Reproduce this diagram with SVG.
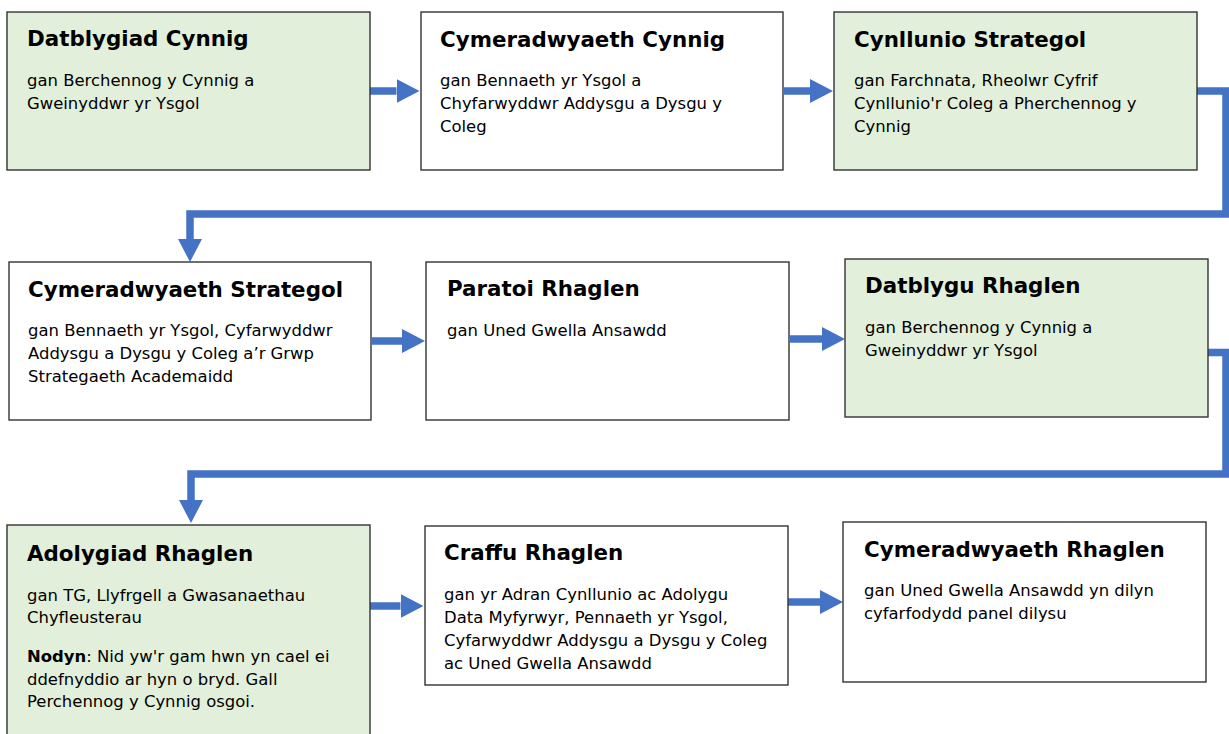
<svg xmlns="http://www.w3.org/2000/svg" width="1229" height="734" viewBox="0 0 1229 734">
<defs>
<style>
.box{stroke:#333;stroke-width:1.4}
.g{fill:#E2EFDA}
.w{fill:#ffffff}
.t{font-family:"DejaVu Sans",Verdana,sans-serif;font-weight:bold;font-size:21.4px;fill:#000}
.b{font-family:"DejaVu Sans",Verdana,sans-serif;font-size:16.45px;fill:#000}
.c{fill:none;stroke:#4472C4;stroke-width:7.5;stroke-linejoin:miter;marker-end:url(#ah)}
</style>
<marker id="ah" viewBox="0 0 23 24" refX="0" refY="12" markerWidth="23" markerHeight="24" markerUnits="userSpaceOnUse" orient="auto">
<path d="M0 0 L23 12 L0 24 Z" fill="#4472C4"/>
</marker>
</defs>
<rect width="1229" height="734" fill="#fff"/>
<g id="connectors">
<path class="c" d="M370 91 H396.5"/>
<path class="c" d="M784 91 H810"/>
<path class="c" d="M1197 91 H1226 V214 H190 V239"/>
<path class="c" d="M372 341 H402"/>
<path class="c" d="M790 339 H822"/>
<path class="c" d="M1208 352.5 H1226 V474 H191 V500"/>
<path class="c" d="M370 606 H400.5"/>
<path class="c" d="M788 602 H820"/>
</g>
<g id="n1">
<rect class="box g" x="7" y="12" width="363" height="158"/>
<text class="t" x="27" y="46">Datblygiad Cynnig</text>
<text class="b" x="27" y="86">gan Berchennog y Cynnig a</text>
<text class="b" x="27" y="108.5">Gweinyddwr yr Ysgol</text>
</g>
<g id="n2">
<rect class="box w" x="421" y="12" width="362" height="158"/>
<text class="t" x="440" y="47">Cymeradwyaeth Cynnig</text>
<text class="b" x="440" y="86">gan Bennaeth yr Ysgol a</text>
<text class="b" x="440" y="109">Chyfarwyddwr Addysgu a Dysgu y</text>
<text class="b" x="440" y="132">Coleg</text>
</g>
<g id="n3">
<rect class="box g" x="834" y="12" width="363" height="158"/>
<text class="t" x="854" y="47">Cynllunio Strategol</text>
<text class="b" x="854" y="86">gan Farchnata, Rheolwr Cyfrif</text>
<text class="b" x="854" y="109">Cynllunio'r Coleg a Pherchennog y</text>
<text class="b" x="854" y="132">Cynnig</text>
</g>
<g id="n4">
<rect class="box w" x="9" y="262" width="362" height="158"/>
<text class="t" x="28" y="297">Cymeradwyaeth Strategol</text>
<text class="b" x="28" y="336">gan Bennaeth yr Ysgol, Cyfarwyddwr</text>
<text class="b" x="28" y="359">Addysgu a Dysgu y Coleg a’r Grwp</text>
<text class="b" x="28" y="382">Strategaeth Academaidd</text>
</g>
<g id="n5">
<rect class="box w" x="426" y="262" width="363" height="158"/>
<text class="t" x="447" y="296">Paratoi Rhaglen</text>
<text class="b" x="447" y="336">gan Uned Gwella Ansawdd</text>
</g>
<g id="n6">
<rect class="box g" x="845" y="259" width="363" height="158"/>
<text class="t" x="865" y="293">Datblygu Rhaglen</text>
<text class="b" x="865" y="333">gan Berchennog y Cynnig a</text>
<text class="b" x="865" y="356">Gweinyddwr yr Ysgol</text>
</g>
<g id="n7">
<rect class="box g" x="7" y="525" width="363" height="215"/>
<text class="t" x="27" y="560.5">Adolygiad Rhaglen</text>
<text class="b" x="27" y="600.5">gan TG, Llyfrgell a Gwasanaethau</text>
<text class="b" x="27" y="622.5">Chyfleusterau</text>
<text class="b" x="27" y="661.5"><tspan font-weight="bold">Nodyn</tspan>: Nid yw'r gam hwn yn cael ei</text>
<text class="b" x="27" y="684.5">ddefnyddio ar hyn o bryd. Gall</text>
<text class="b" x="27" y="707">Perchennog y Cynnig osgoi.</text>
</g>
<g id="n8">
<rect class="box w" x="425" y="526" width="363" height="159"/>
<text class="t" x="444" y="560">Craffu Rhaglen</text>
<text class="b" x="444" y="600">gan yr Adran Cynllunio ac Adolygu</text>
<text class="b" x="444" y="623">Data Myfyrwyr, Pennaeth yr Ysgol,</text>
<text class="b" x="444" y="646">Cyfarwyddwr Addysgu a Dysgu y Coleg</text>
<text class="b" x="444" y="668.5">ac Uned Gwella Ansawdd</text>
</g>
<g id="n9">
<rect class="box w" x="843" y="522" width="363" height="160"/>
<text class="t" x="864" y="557">Cymeradwyaeth Rhaglen</text>
<text class="b" x="864" y="596">gan Uned Gwella Ansawdd yn dilyn</text>
<text class="b" x="864" y="619">cyfarfodydd panel dilysu</text>
</g>
</svg>
